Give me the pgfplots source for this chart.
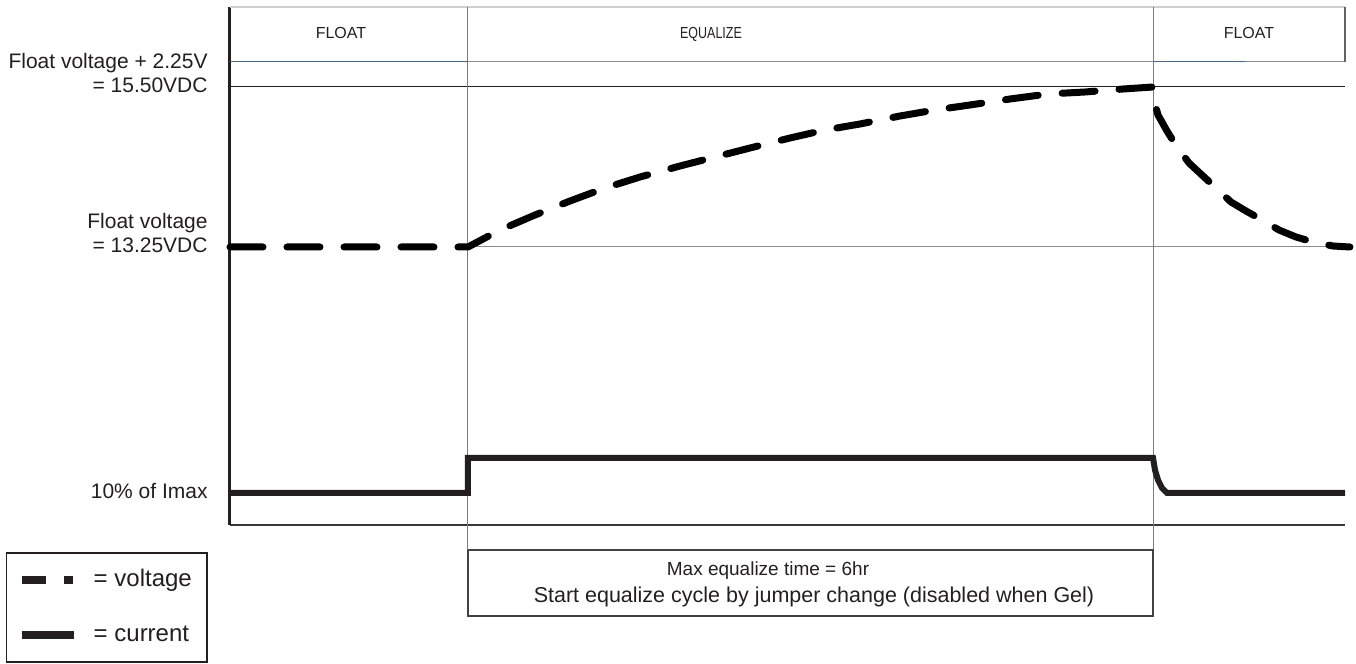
\documentclass[border=0pt]{standalone}
\usepackage{fontspec}
\setmainfont{Liberation Sans}
\usepackage{graphicx}
\usepackage{pgfplots}
\pgfplotsset{compat=1.18}
\definecolor{ink}{HTML}{231F20}
\definecolor{gridgray}{HTML}{8A8A8A}
\definecolor{lightgray}{HTML}{CFCFCF}
\definecolor{bluegray}{HTML}{4A6580}
\begin{document}
\begin{tikzpicture}
\begin{axis}[
  scale only axis, width=557.5pt, height=259pt,
  xmin=230, xmax=1345, ymin=139, ymax=657,
  enlargelimits=false, clip=false,
  axis x line=bottom, axis y line=left,
  x axis line style={-, draw=ink!90, line width=1pt},
  y axis line style={-, draw=ink, line width=1.5pt},
  xtick=\empty,
  ytick={171,417,577},
  yticklabels={{10\% of Imax},{\begin{tabular}[b]{@{}r@{}}Float voltage\\= 13.25VDC\end{tabular}},{\begin{tabular}[b]{@{}r@{}}Float voltage + 2.25V\\= 15.50VDC\end{tabular}}},
  major tick length=0pt,
  yticklabel style={font=\fontsize{10.5}{12}\selectfont, text=ink, anchor=mid east, inner sep=0pt, xshift=-11pt},
  legend style={at={(axis cs:6,1)}, anchor=south west, draw=ink, line width=0.75pt,
    inner xsep=5.5pt, inner ysep=5.5pt, font=\fontsize{12}{14}\selectfont, text=ink,
    row sep=11.5pt, column sep=6pt,
    nodes={text height=9pt, text depth=3pt, inner sep=2pt}},
  legend cell align=left,
]
% header / frame lines
\addplot[forget plot, lightgray, line width=1pt] coordinates {(230,657) (1345,657)};
\addplot[forget plot, gridgray, line width=0.5pt] coordinates {(230,602) (1345,602)};
\addplot[forget plot, bluegray, line width=0.5pt] coordinates {(230,602) (468,602)};
\addplot[forget plot, bluegray, line width=0.5pt] coordinates {(1153,602) (1245,602)};
\addplot[forget plot, ink!70, line width=0.6pt] coordinates {(1345,657) (1345,602)};
\addplot[forget plot, ink, line width=0.5pt] coordinates {(230,577) (1345,577)};
\addplot[forget plot, gridgray, line width=0.5pt] coordinates {(468,417) (1345,417)};
\addplot[forget plot, gridgray!90!black, line width=0.5pt] coordinates {(468,657) (468,48)};
\addplot[forget plot, gridgray!90!black, line width=0.5pt] coordinates {(1153,657) (1153,48)};
% lower info box
\addplot[forget plot, ink!85, line width=0.75pt] coordinates {(468,114) (1153,114) (1153,48) (468,48) (468,114)};
% voltage
\addplot[forget plot, black, line width=3.5pt, dash pattern=on 16.5pt off 12pt, line cap=round, line join=round] coordinates {
(230,417) (468,417) (500,434) (535,449) (570,463) (605,476) (640,487) (680,498) (715,507) (750,516)
(790,526) (825,534) (860,540) (900,548) (935,554) (970,559) (1010,565) (1048,570) (1085,572) (1123,575)
(1153,577) (1154,564) (1158,549) (1167,533) (1177,517) (1189,501) (1203,488) (1216,476) (1231,462)
(1246,453) (1262,444) (1279,434) (1296,427) (1313,422) (1333,418) (1350,417)};
% current
\addplot[forget plot, ink, line width=3pt, line join=miter] coordinates {
(230,171) (468,171) (468,206) (1153,206) (1155,194) (1158,184) (1162,176) (1167,171) (1345,171)};
% legend
\addlegendimage{legend image code/.code={\draw[ink, line width=4pt, dash pattern=on 12pt off 9pt on 4.5pt off 20pt] (0pt,0pt) -- (26pt,0pt);}}
\addlegendentry{= voltage}
\addlegendimage{legend image code/.code={\draw[ink, line width=4pt] (0pt,0pt) -- (26pt,0pt);}}
\addlegendentry{= current}
% texts
\node[font=\fontsize{8}{9.6}\selectfont, text=ink, anchor=base] at (axis cs:341,625) {FLOAT};
\node[font=\fontsize{8}{9.6}\selectfont, text=ink, anchor=base] at (axis cs:711,625) {\scalebox{0.78}[1]{EQUALIZE}};
\node[font=\fontsize{8}{9.6}\selectfont, text=ink, anchor=base] at (axis cs:1249,625) {FLOAT};
\node[font=\fontsize{9.5}{11}\selectfont, text=ink, anchor=base] at (axis cs:768,88) {Max equalize time = 6hr};
\node[font=\fontsize{10.75}{12}\selectfont, text=ink, anchor=base] at (axis cs:814,61) {Start equalize cycle by jumper change (disabled when Gel)};
% page extent
\path (axis cs:0,0) rectangle (axis cs:1356,664);
\end{axis}
\end{tikzpicture}
\end{document}
